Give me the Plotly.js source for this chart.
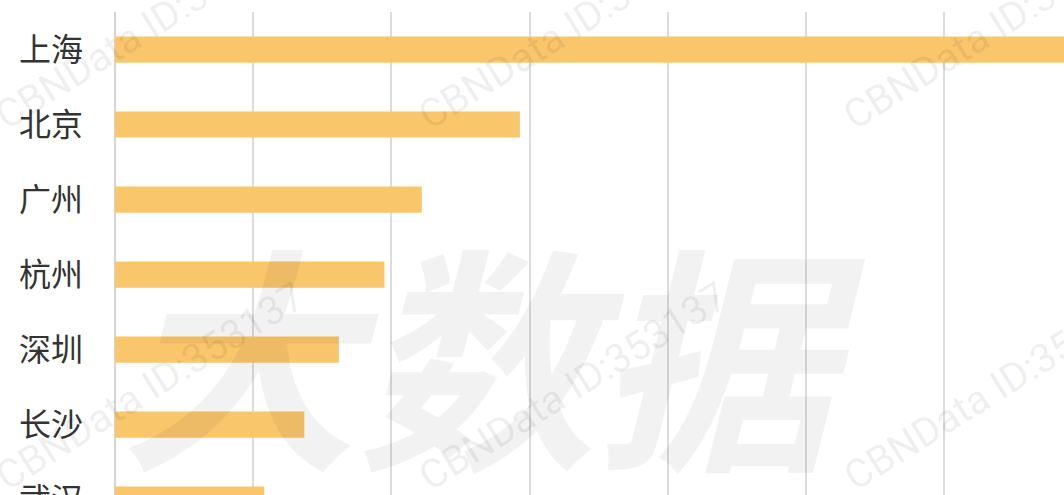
<!DOCTYPE html>
<html>
<head>
<meta charset="utf-8">
<script src="https://cdn.plot.ly/plotly-3.0.1.min.js"></script>
<style>
html,body{margin:0;padding:0;overflow:hidden;background:#fff;width:1064px;height:495px;}
#chart{width:1064px;height:600px;}
</style>
</head>
<body>
<div id="chart"></div>
<script>
const cities = ['上海','北京','广州','杭州','深圳','长沙','武汉'];
const values = [760, 293, 222, 195, 162, 137, 108];

const W = 1064, H = 600, ML = 115, MT = 12, MB = 63, MR = 0;
const plotW = W - ML - MR, plotH = H - MT - MB;
function px(x){ return (x - ML) / plotW; }
function py(y){ return (H - MB - y) / plotH; }

const annotations = [];
// large background watermark
annotations.push({
  text: '大数据', xref: 'paper', yref: 'paper', x: px(492), y: py(348),
  xanchor: 'center', yanchor: 'middle', showarrow: false,
  font: {family: 'Noto Sans CJK SC', size: 238, color: 'rgba(0,0,0,0.05)', weight: 'bold', style: 'italic'}
});
// small repeated watermarks
const wmX = [150, 573, 998];
const wmY = [26, 386];
wmY.forEach(yy => wmX.forEach(xx => {
  annotations.push({
    text: 'CBNData ID:353137', xref: 'paper', yref: 'paper', x: px(xx), y: py(yy),
    xanchor: 'center', yanchor: 'middle', showarrow: false, textangle: -32,
    font: {family: 'Roboto', size: 40, color: 'rgba(0,0,0,0.08)'}
  });
}));

const data = [{
  type: 'bar', orientation: 'h', y: cities, x: values,
  width: 0.35,
  marker: {color: '#FAC66B', line: {width: 0}},
  hoverinfo: 'none'
}];

const layout = {
  width: W, height: H,
  margin: {l: ML, r: MR, t: MT, b: MB, pad: 0},
  paper_bgcolor: '#fff', plot_bgcolor: '#fff',
  showlegend: false,
  xaxis: {
    range: [0, (W - ML) / 138.2 * 100], dtick: 100, tick0: 0,
    showgrid: true, gridcolor: '#dcdcdc', gridwidth: 2,
    zeroline: true, zerolinecolor: '#d4d4d4', zerolinewidth: 2,
    showticklabels: false, ticks: '', showline: false, fixedrange: true
  },
  yaxis: {
    autorange: 'reversed', type: 'category',
    showgrid: false, zeroline: false, showline: false,
    ticks: '', ticklabelstandoff: 31,
    tickfont: {family: 'Noto Sans CJK SC', size: 32, color: '#333333'},
    fixedrange: true
  },
  annotations: annotations
};

Plotly.newPlot('chart', data, layout, {displayModeBar: false, staticPlot: true});
</script>
</body>
</html>
